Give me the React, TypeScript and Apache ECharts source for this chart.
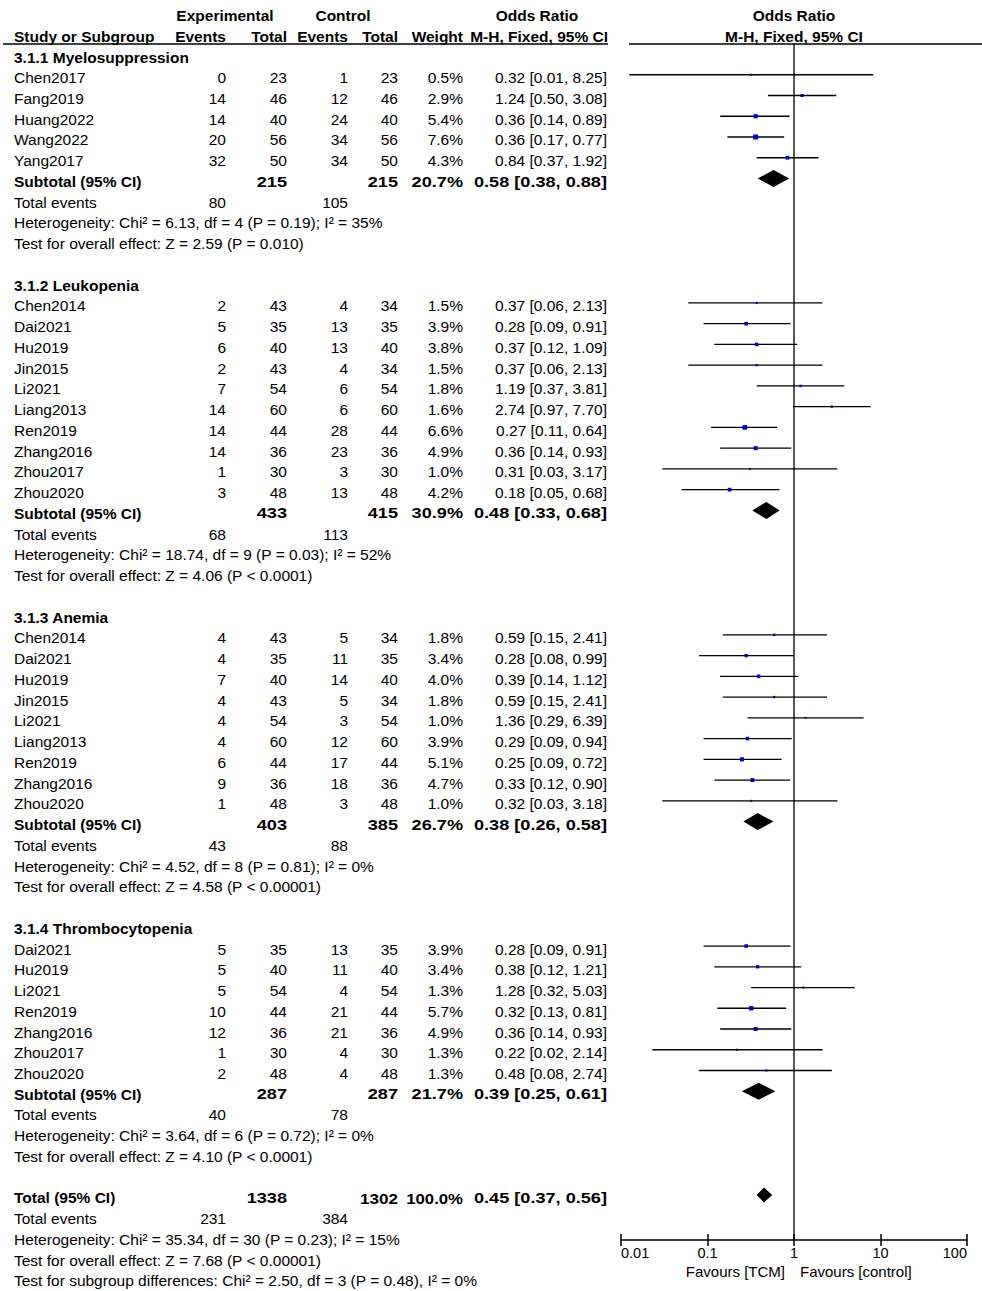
import React, { useEffect, useRef } from 'react';
import * as echarts from 'echarts';

// name, exp events, exp total, ctrl events, ctrl total, weight %, OR, lower, upper
type Study = [string, number, number, number, number, number, number, number, number];

const subgroupTitles = ['3.1.1 Myelosuppression', '3.1.2 Leukopenia', '3.1.3 Anemia', '3.1.4 Thrombocytopenia'];

const myelosuppression: Study[] = [
  ['Chen2017', 0, 23, 1, 23, 0.5, 0.32, 0.0125, 8.25],
  ['Fang2019', 14, 46, 12, 46, 2.9, 1.24, 0.5, 3.08],
  ['Huang2022', 14, 40, 24, 40, 5.4, 0.36, 0.14, 0.89],
  ['Wang2022', 20, 56, 34, 56, 7.6, 0.36, 0.17, 0.77],
  ['Yang2017', 32, 50, 34, 50, 4.3, 0.84, 0.37, 1.92],
];
const leukopenia: Study[] = [
  ['Chen2014', 2, 43, 4, 34, 1.5, 0.37, 0.06, 2.13],
  ['Dai2021', 5, 35, 13, 35, 3.9, 0.28, 0.09, 0.91],
  ['Hu2019', 6, 40, 13, 40, 3.8, 0.37, 0.12, 1.09],
  ['Jin2015', 2, 43, 4, 34, 1.5, 0.37, 0.06, 2.13],
  ['Li2021', 7, 54, 6, 54, 1.8, 1.19, 0.37, 3.81],
  ['Liang2013', 14, 60, 6, 60, 1.6, 2.74, 0.97, 7.7],
  ['Ren2019', 14, 44, 28, 44, 6.6, 0.27, 0.11, 0.64],
  ['Zhang2016', 14, 36, 23, 36, 4.9, 0.36, 0.14, 0.93],
  ['Zhou2017', 1, 30, 3, 30, 1.0, 0.31, 0.03, 3.17],
  ['Zhou2020', 3, 48, 13, 48, 4.2, 0.18, 0.05, 0.68],
];
const anemia: Study[] = [
  ['Chen2014', 4, 43, 5, 34, 1.8, 0.59, 0.15, 2.41],
  ['Dai2021', 4, 35, 11, 35, 3.4, 0.28, 0.08, 0.99],
  ['Hu2019', 7, 40, 14, 40, 4.0, 0.39, 0.14, 1.12],
  ['Jin2015', 4, 43, 5, 34, 1.8, 0.59, 0.15, 2.41],
  ['Li2021', 4, 54, 3, 54, 1.0, 1.36, 0.29, 6.39],
  ['Liang2013', 4, 60, 12, 60, 3.9, 0.29, 0.09, 0.94],
  ['Ren2019', 6, 44, 17, 44, 5.1, 0.25, 0.09, 0.72],
  ['Zhang2016', 9, 36, 18, 36, 4.7, 0.33, 0.12, 0.9],
  ['Zhou2020', 1, 48, 3, 48, 1.0, 0.32, 0.03, 3.18],
];
const thrombocytopenia: Study[] = [
  ['Dai2021', 5, 35, 13, 35, 3.9, 0.28, 0.09, 0.91],
  ['Hu2019', 5, 40, 11, 40, 3.4, 0.38, 0.12, 1.21],
  ['Li2021', 5, 54, 4, 54, 1.3, 1.28, 0.32, 5.03],
  ['Ren2019', 10, 44, 21, 44, 5.7, 0.32, 0.13, 0.81],
  ['Zhang2016', 12, 36, 21, 36, 4.9, 0.36, 0.14, 0.93],
  ['Zhou2017', 1, 30, 4, 30, 1.3, 0.22, 0.023, 2.14],
  ['Zhou2020', 2, 48, 4, 48, 1.3, 0.48, 0.08, 2.74],
];

// exp total, ctrl total, weight %, OR, lower, upper
const subtotals = [
  [215, 215, 20.7, 0.58, 0.38, 0.88],
  [433, 415, 30.9, 0.48, 0.33, 0.68],
  [403, 385, 26.7, 0.38, 0.26, 0.58],
  [287, 287, 21.7, 0.39, 0.25, 0.61],
];
const subgroupEvents = [
  [80, 105],
  [68, 113],
  [43, 88],
  [40, 78],
];
const heterogeneityTexts = [
  'Heterogeneity: Chi² = 6.13, df = 4 (P = 0.19); I² = 35%',
  'Heterogeneity: Chi² = 18.74, df = 9 (P = 0.03); I² = 52%',
  'Heterogeneity: Chi² = 4.52, df = 8 (P = 0.81); I² = 0%',
  'Heterogeneity: Chi² = 3.64, df = 6 (P = 0.72); I² = 0%',
];
const overallEffectTexts = [
  'Test for overall effect: Z = 2.59 (P = 0.010)',
  'Test for overall effect: Z = 4.06 (P < 0.0001)',
  'Test for overall effect: Z = 4.58 (P < 0.00001)',
  'Test for overall effect: Z = 4.10 (P < 0.0001)',
];
const totalRow = [1338, 1302, 100.0, 0.45, 0.37, 0.56];
const totalEvents = [231, 384];
const totalHeterogeneity = 'Heterogeneity: Chi² = 35.34, df = 30 (P = 0.23); I² = 15%';
const totalOverallEffect = 'Test for overall effect: Z = 7.68 (P < 0.00001)';
const subgroupDifferences = 'Test for subgroup differences: Chi² = 2.50, df = 3 (P = 0.48), I² = 0%';
const tickValues = [0.01, 0.1, 1, 10, 100];
const tickLabels = ['0.01', '0.1', '1', '10', '100'];
const favoursLabels = ['Favours [TCM]', 'Favours [control]'];

// ---------- layout ----------
const FONT = '"Liberation Sans", Arial, sans-serif';
const FS = 15.5;
const BOLD_NUM_SCALE = 1.17;
const COL = { name: 14, expEv: 226, expTot: 287, ctlEv: 348, ctlTot: 398, weight: 463, ci: 607 };
const TEXT_DY = 3;
const HEADER_LINE_ROW = -0.482;
const AXIS_ROW = 57.17;
const FAVOURS_ROW = 58.55;

type Cell = {
  t: string;
  x: number;
  align: 'left' | 'right' | 'center';
  bold?: boolean;
  num?: boolean;
  rel?: boolean;
  size?: number;
  sx?: number;
};
type TextRow = { r: number; cells: Cell[]; headerLine?: boolean };

const fmtCI = (or: number, lo: number, hi: number) => `${or.toFixed(2)} [${lo.toFixed(2)}, ${hi.toFixed(2)}]`;

const textRows: TextRow[] = [];
const studyMarks: number[][] = [];
const diamondMarks: number[][] = [];

textRows.push({
  r: -2,
  cells: [
    { t: 'Experimental', x: 225, align: 'center', bold: true },
    { t: 'Control', x: 343, align: 'center', bold: true },
    { t: 'Odds Ratio', x: 537, align: 'center', bold: true },
    { t: 'Odds Ratio', x: 0, align: 'center', bold: true, rel: true },
  ],
});
textRows.push({
  r: -1,
  headerLine: true,
  cells: [
    { t: 'Study or Subgroup', x: COL.name, align: 'left', bold: true },
    { t: 'Events', x: COL.expEv, align: 'right', bold: true },
    { t: 'Total', x: COL.expTot, align: 'right', bold: true },
    { t: 'Events', x: COL.ctlEv, align: 'right', bold: true },
    { t: 'Total', x: COL.ctlTot, align: 'right', bold: true },
    { t: 'Weight', x: COL.weight, align: 'right', bold: true },
    { t: 'M-H, Fixed, 95% CI', x: COL.ci + 1, align: 'right', bold: true },
    { t: 'M-H, Fixed, 95% CI', x: 0, align: 'center', bold: true, rel: true },
  ],
});

const groups = [myelosuppression, leukopenia, anemia, thrombocytopenia];
let r = 0;
groups.forEach((studies, gi) => {
  textRows.push({ r, cells: [{ t: subgroupTitles[gi], x: COL.name, align: 'left', bold: true }] });
  r++;
  studies.forEach((s) => {
    textRows.push({
      r,
      cells: [
        { t: s[0], x: COL.name, align: 'left' },
        { t: String(s[1]), x: COL.expEv, align: 'right' },
        { t: String(s[2]), x: COL.expTot, align: 'right' },
        { t: String(s[3]), x: COL.ctlEv, align: 'right' },
        { t: String(s[4]), x: COL.ctlTot, align: 'right' },
        { t: s[5].toFixed(1) + '%', x: COL.weight, align: 'right' },
        { t: fmtCI(s[6], s[7], s[8]), x: COL.ci, align: 'right' },
      ],
    });
    studyMarks.push([s[6], r, s[7], s[8], s[5]]);
    r++;
  });
  const st = subtotals[gi];
  textRows.push({
    r,
    cells: [
      { t: 'Subtotal (95% CI)', x: COL.name, align: 'left', bold: true },
      { t: String(st[0]), x: COL.expTot, align: 'right', bold: true, num: true },
      { t: String(st[1]), x: COL.ctlTot, align: 'right', bold: true, num: true },
      { t: st[2].toFixed(1) + '%', x: COL.weight, align: 'right', bold: true, num: true },
      { t: fmtCI(st[3], st[4], st[5]), x: COL.ci, align: 'right', bold: true, num: true },
    ],
  });
  diamondMarks.push([st[3], r, st[4], st[5], 8.5]);
  r++;
  textRows.push({
    r,
    cells: [
      { t: 'Total events', x: COL.name, align: 'left' },
      { t: String(subgroupEvents[gi][0]), x: COL.expEv, align: 'right' },
      { t: String(subgroupEvents[gi][1]), x: COL.ctlEv, align: 'right' },
    ],
  });
  r++;
  textRows.push({ r, cells: [{ t: heterogeneityTexts[gi], x: COL.name, align: 'left' }] });
  r++;
  textRows.push({ r, cells: [{ t: overallEffectTexts[gi], x: COL.name, align: 'left' }] });
  r++;
  r++; // blank row
});
textRows.push({
  r,
  cells: [
    { t: 'Total (95% CI)', x: COL.name, align: 'left', bold: true },
    { t: String(totalRow[0]), x: COL.expTot, align: 'right', bold: true, num: true },
    { t: String(totalRow[1]), x: COL.ctlTot, align: 'right', bold: true, num: true, sx: 1.1 },
    { t: totalRow[2].toFixed(1) + '%', x: COL.weight, align: 'right', bold: true, num: true, sx: 1.08 },
    { t: fmtCI(totalRow[3], totalRow[4], totalRow[5]), x: COL.ci, align: 'right', bold: true, num: true },
  ],
});
diamondMarks.push([totalRow[3], r, totalRow[4], totalRow[5], 7.5]);
r++;
textRows.push({
  r,
  cells: [
    { t: 'Total events', x: COL.name, align: 'left' },
    { t: String(totalEvents[0]), x: COL.expEv, align: 'right' },
    { t: String(totalEvents[1]), x: COL.ctlEv, align: 'right' },
  ],
});
r++;
textRows.push({ r, cells: [{ t: totalHeterogeneity, x: COL.name, align: 'left' }] });
r++;
textRows.push({ r, cells: [{ t: totalOverallEffect, x: COL.name, align: 'left' }] });
r++;
textRows.push({ r, cells: [{ t: subgroupDifferences, x: COL.name, align: 'left' }] });
textRows.push({
  r: FAVOURS_ROW,
  cells: [
    { t: favoursLabels[0], x: -9, align: 'right', rel: true, size: 15 },
    { t: favoursLabels[1], x: 6, align: 'left', rel: true, size: 15 },
  ],
});

const ROW_MIN = -2.5;
const ROW_MAX = 59.5;
const ROW_H = 20.745;
const ROW0_Y = 54;
const PLOT_LEFT = 621;
const PLOT_WIDTH = 346;

function buildOption(): any {
  const textSeries = {
    type: 'custom',
    xAxisIndex: 0,
    yAxisIndex: 0,
    silent: true,
    clip: false,
    data: textRows.map((tr) => [1, tr.r]),
    renderItem: (params: any, api: any) => {
      const tr = textRows[params.dataIndex];
      const p = api.coord([1, tr.r]);
      const y = p[1] + TEXT_DY;
      const children: any[] = tr.cells.map((c) => ({
        type: 'text',
        x: c.rel ? p[0] + c.x : c.x,
        y,
        scaleX: c.sx ? c.sx : c.bold && c.num ? BOLD_NUM_SCALE : 1,
        style: {
          text: c.t,
          fill: '#000',
          font: `${c.bold ? 'bold ' : ''}${c.size || FS}px ${FONT}`,
          align: c.align,
          verticalAlign: 'middle',
        },
      }));
      if (tr.headerLine) {
        const ly = api.coord([1, HEADER_LINE_ROW])[1];
        children.push({
          type: 'line',
          shape: { x1: 3, y1: ly, x2: 608, y2: ly },
          style: { stroke: '#000', lineWidth: 1.5 },
        });
        children.push({
          type: 'line',
          shape: { x1: 629, y1: ly, x2: 982, y2: ly },
          style: { stroke: '#000', lineWidth: 1.5 },
        });
      }
      return { type: 'group', children };
    },
  };

  const refLineSeries = {
    type: 'custom',
    xAxisIndex: 0,
    yAxisIndex: 0,
    silent: true,
    clip: false,
    data: [[1, HEADER_LINE_ROW, AXIS_ROW]],
    renderItem: (params: any, api: any) => {
      const a = api.coord([api.value(0), api.value(1)]);
      const b = api.coord([api.value(0), api.value(2)]);
      return {
        type: 'line',
        shape: { x1: a[0], y1: a[1], x2: b[0], y2: b[1] },
        style: { stroke: '#000', lineWidth: 1.3 },
      };
    },
  };

  const studySeries = {
    type: 'custom',
    xAxisIndex: 0,
    yAxisIndex: 0,
    silent: true,
    clip: false,
    data: studyMarks,
    renderItem: (params: any, api: any) => {
      const row = api.value(1);
      const c = api.coord([api.value(0), row]);
      const lo = api.coord([api.value(2), row]);
      const hi = api.coord([api.value(3), row]);
      const w = api.value(4);
      const side = Math.max(2, 1.8 * Math.sqrt(w));
      return {
        type: 'group',
        children: [
          {
            type: 'line',
            shape: { x1: lo[0], y1: lo[1], x2: hi[0], y2: hi[1] },
            style: { stroke: '#000', lineWidth: 1.3 },
          },
          {
            type: 'rect',
            shape: { x: c[0] - side / 2, y: c[1] - side / 2, width: side, height: side },
            style: { fill: '#0000c8' },
          },
        ],
      };
    },
  };

  const diamondSeries = {
    type: 'custom',
    xAxisIndex: 0,
    yAxisIndex: 0,
    silent: true,
    clip: false,
    data: diamondMarks,
    renderItem: (params: any, api: any) => {
      const row = api.value(1);
      const c = api.coord([api.value(0), row]);
      const lo = api.coord([api.value(2), row]);
      const hi = api.coord([api.value(3), row]);
      const h = api.value(4);
      return {
        type: 'polygon',
        shape: {
          points: [
            [lo[0], lo[1]],
            [c[0], c[1] - h],
            [hi[0], hi[1]],
            [c[0], c[1] + h],
          ],
        },
        style: { fill: '#000' },
      };
    },
  };

  const labelFor = (v: number) => {
    let best = 0;
    tickValues.forEach((tv, i) => {
      if (Math.abs(Math.log10(tv) - Math.log10(v)) < Math.abs(Math.log10(tickValues[best]) - Math.log10(v))) best = i;
    });
    return tickLabels[best];
  };

  const axisBase = {
    gridIndex: 1,
    type: 'log',
    logBase: 10,
    min: tickValues[0],
    max: tickValues[tickValues.length - 1],
    position: 'bottom',
    splitLine: { show: false },
    minorTick: { show: false },
  };

  return {
    animation: false,
    backgroundColor: '#fff',
    grid: [
      {
        left: PLOT_LEFT,
        width: PLOT_WIDTH,
        top: ROW0_Y + ROW_MIN * ROW_H,
        height: (ROW_MAX - ROW_MIN) * ROW_H,
        containLabel: false,
      },
      {
        left: PLOT_LEFT,
        width: PLOT_WIDTH,
        top: ROW0_Y + (AXIS_ROW - 2) * ROW_H,
        height: 2 * ROW_H,
        containLabel: false,
      },
    ],
    xAxis: [
      {
        gridIndex: 0,
        type: 'log',
        logBase: 10,
        min: tickValues[0],
        max: tickValues[tickValues.length - 1],
        show: false,
      },
      {
        ...axisBase,
        axisLine: { show: true, lineStyle: { color: '#000', width: 1.5 } },
        axisTick: { show: true, inside: false, length: 6, lineStyle: { color: '#000', width: 1.5 } },
        axisLabel: {
          show: true,
          color: '#000',
          fontSize: 14.5,
          fontFamily: FONT,
          margin: 6,
          alignMinLabel: 'left',
          alignMaxLabel: 'right',
          formatter: (v: number) => labelFor(v),
        },
      },
      {
        ...axisBase,
        axisLine: { show: false },
        axisTick: { show: true, inside: true, length: 6, lineStyle: { color: '#000', width: 1.5 } },
        axisLabel: { show: false },
      },
    ],
    yAxis: [
      { gridIndex: 0, type: 'value', min: ROW_MIN, max: ROW_MAX, inverse: true, show: false },
      { gridIndex: 1, type: 'value', min: 0, max: 1, show: false },
    ],
    series: [
      textSeries,
      refLineSeries,
      studySeries,
      diamondSeries,
      { type: 'scatter', xAxisIndex: 1, yAxisIndex: 1, data: [], silent: true },
      { type: 'scatter', xAxisIndex: 2, yAxisIndex: 1, data: [], silent: true },
    ],
  };
}

export default function App() {
  const ref = useRef<HTMLDivElement>(null);
  useEffect(() => {
    if (!ref.current) return;
    const chart = echarts.init(ref.current, null, { renderer: 'svg' });
    chart.setOption(buildOption());
    return () => chart.dispose();
  }, []);
  return (
    <div
      ref={ref}
      style={{ position: 'absolute', left: 0, top: 0, width: 982, height: 1291, background: '#fff' }}
    />
  );
}
